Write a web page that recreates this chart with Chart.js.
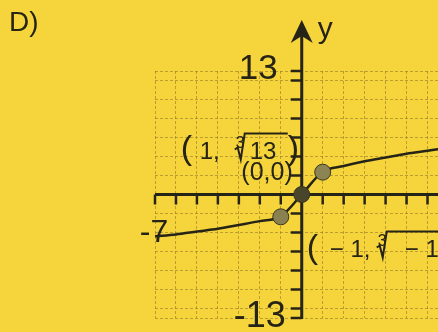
<!DOCTYPE html>
<html>
<head>
<meta charset="utf-8">
<style>
  body { margin: 0; background: #f6d43c; }
  canvas { display: block; }
</style>
</head>
<body>
<canvas id="myChart" width="438" height="332"></canvas>
<script src="https://cdn.jsdelivr.net/npm/chart.js@4.4.1/dist/chart.umd.min.js"></script>
<script>
// values
const curveX = [-7, -6, -5, -4, -3, -2, -1, 0, 1, 2, 3, 4, 5, 6, 6.6];
const curveY = [-4.4, -4.2, -3.9, -3.6, -3.2, -2.8, -2.3, 0, 2.4, 3.0, 3.5, 3.9, 4.3, 4.6, 4.8];
const pointX = [-1, 0, 1];
const pointY = [-2.35, 0, 2.35];
const pointColors = ["#8a8150", "#49452a", "#8d8453"];
const xGrid = [-7, -6, -5, -4, -3, -2, -1, 0, 1, 2, 3, 4, 5, 6];
const yGrid = [-13, -12, -10, -8, -6, -4, -2, 0, 2, 4, 6, 8, 10, 12, 13];
const yTickMarks = [-13, -12, -10, -8, -6, -4, -2, 2, 4, 6, 8, 10, 12, 13];
const yEndLabels = ["13", "-13"];
const xEndLabel = "-7";

const ink = "#262417";
const sans = "'Liberation Sans', Arial, sans-serif";

function txt(ctx, s, x, y, size, align, base) {
    ctx.font = size + "px " + sans;
    ctx.textAlign = align || "left";
    ctx.textBaseline = base || "alphabetic";
    ctx.fillText(s, x, y);
}

// cube root sign: small 3, the hook, and the bar over the radicand
function rootSign(ctx, x, y, barEnd) {
    txt(ctx, "3", x + 1, y - 11, 16);
    ctx.beginPath();
    ctx.moveTo(x, y - 9);
    ctx.lineTo(x + 3, y - 11);
    ctx.lineTo(x + 6, y + 1);
    ctx.lineTo(x + 10, y - 25);
    ctx.lineTo(barEnd, y - 25);
    ctx.lineWidth = 2;
    ctx.stroke();
}

const paper = {
    id: "paper",
    beforeDraw(chart) {
        const ctx = chart.ctx;
        ctx.save();
        ctx.fillStyle = "#f6d43c";
        ctx.fillRect(0, 0, chart.width, chart.height);
        ctx.restore();
    }
};

const axes = {
    id: "axes",
    beforeDatasetsDraw(chart) {
        const ctx = chart.ctx;
        const xs = chart.scales.x, ys = chart.scales.y;
        const ox = xs.getPixelForValue(0), oy = ys.getPixelForValue(0);
        ctx.save();
        ctx.strokeStyle = ink;
        ctx.fillStyle = ink;
        ctx.lineCap = "butt";
        // x axis with ticks hanging below
        ctx.lineWidth = 3;
        ctx.beginPath();
        ctx.moveTo(xs.getPixelForValue(-7), oy);
        ctx.lineTo(chart.width, oy);
        ctx.stroke();
        ctx.lineWidth = 2.5;
        xGrid.forEach(v => {
            if (v === 0) return;
            const p = xs.getPixelForValue(v);
            ctx.beginPath();
            ctx.moveTo(p, oy);
            ctx.lineTo(p, oy + 10);
            ctx.stroke();
        });
        // y axis
        ctx.lineWidth = 3;
        ctx.beginPath();
        ctx.moveTo(ox, 30);
        ctx.lineTo(ox, ys.getPixelForValue(-13) + 1);
        ctx.stroke();
        ctx.lineWidth = 2.5;
        yTickMarks.forEach(v => {
            const p = ys.getPixelForValue(v);
            ctx.beginPath();
            ctx.moveTo(ox - 11, p);
            ctx.lineTo(ox, p);
            ctx.stroke();
        });
        // arrow head
        ctx.beginPath();
        ctx.moveTo(ox, 20);
        ctx.lineTo(ox + 11, 43);
        ctx.lineTo(ox, 36);
        ctx.lineTo(ox - 11, 43);
        ctx.closePath();
        ctx.fill();
        ctx.restore();
    },
    afterDatasetsDraw(chart) {
        const ctx = chart.ctx;
        const xs = chart.scales.x, ys = chart.scales.y;
        const ox = xs.getPixelForValue(0), oy = ys.getPixelForValue(0);
        ctx.save();
        ctx.fillStyle = ink;
        ctx.strokeStyle = ink;
        txt(ctx, "D)", 9, 23, 28, "left", "middle");
        txt(ctx, "y", ox + 16, 30, 30, "left", "middle");
        txt(ctx, yEndLabels[0], ox - 24, ys.getPixelForValue(13) - 2, 35, "right", "middle");
        txt(ctx, yEndLabels[1], ox - 16, ys.getPixelForValue(-13) - 1, 36, "right", "middle");
        txt(ctx, xEndLabel, xs.getPixelForValue(-7) - 1, oy + 39, 32, "center", "middle");

        // (1, ∛13)
        txt(ctx, "(", ox - 121, oy - 36, 34);
        txt(ctx, "1,", ox - 102, oy - 36, 24);
        rootSign(ctx, ox - 67, oy - 36, ox - 14);
        txt(ctx, "13", ox - 52, oy - 36, 24);
        txt(ctx, ")", ox - 14, oy - 36, 34);

        // (0,0)
        txt(ctx, "(0,0)", ox - 9, oy - 21, 25, "right", "middle");

        // (−1, ∛−13), cut by the page edge
        txt(ctx, "(", ox + 5, oy + 63, 34);
        txt(ctx, "− 1,", ox + 28, oy + 62, 24);
        rootSign(ctx, ox + 75, oy + 62, chart.width);
        txt(ctx, "− 13)", ox + 103, oy + 62, 24);
        ctx.restore();
    }
};

const myChart = new Chart("myChart", {
    type: "scatter",
    data: {
        datasets: [
            {
                type: "line",
                data: curveX.map((x, i) => ({x: x, y: curveY[i]})),
                borderColor: ink,
                borderWidth: 2.5,
                pointRadius: 0,
                cubicInterpolationMode: "monotone",
                fill: false,
                order: 2
            },
            {
                data: pointX.map((x, i) => ({x: x, y: pointY[i]})),
                backgroundColor: pointColors,
                borderColor: "#3a3720",
                borderWidth: 1,
                pointRadius: 8,
                order: 1
            }
        ]
    },
    options: {
        responsive: false,
        animation: false,
        layout: {autoPadding: false, padding: {left: 155, top: 71, right: 0, bottom: 14}},
        plugins: {legend: {display: false}, tooltip: {enabled: false}},
        scales: {
            x: {
                type: "linear", min: -7, max: 6.5,
                afterBuildTicks: s => { s.ticks = xGrid.map(v => ({value: v})); },
                ticks: {display: false},
                grid: {color: "rgba(150,120,40,0.6)", lineWidth: 1, drawTicks: false},
                border: {display: false, dash: [3, 2]}
            },
            y: {
                type: "linear", min: -13, max: 13,
                afterBuildTicks: s => { s.ticks = yGrid.map(v => ({value: v})); },
                ticks: {display: false},
                grid: {color: "rgba(150,120,40,0.6)", lineWidth: 1, drawTicks: false},
                border: {display: false, dash: [3, 2]}
            }
        }
    },
    plugins: [paper, axes]
});
</script>
</body>
</html>
